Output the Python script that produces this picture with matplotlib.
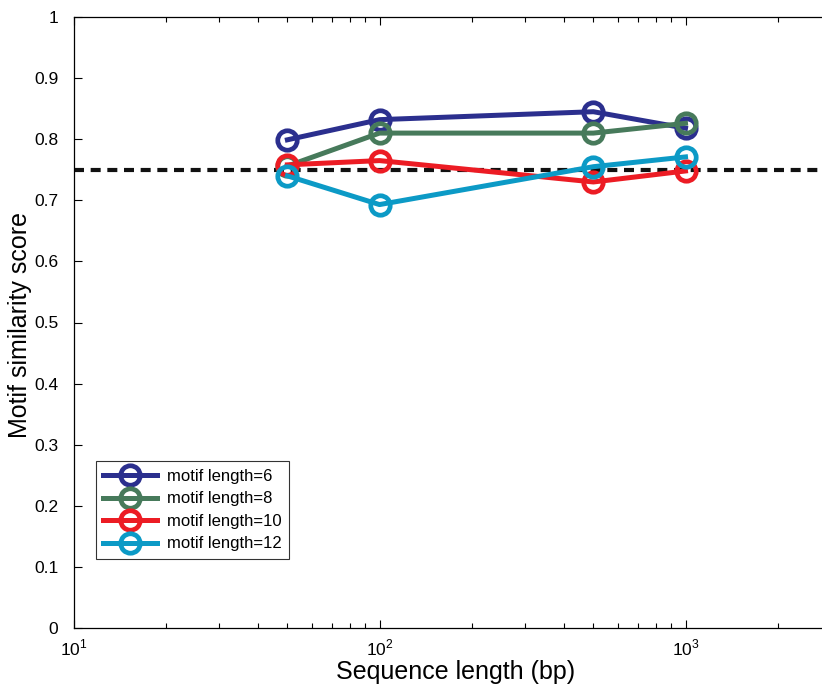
import matplotlib.pyplot as plt
import numpy as np

seq_len = [50, 100, 500, 1000]
score_6 = [0.799, 0.832, 0.845, 0.818]
score_8 = [0.756, 0.810, 0.810, 0.826]
score_10 = [0.758, 0.765, 0.730, 0.748]
score_12 = [0.740, 0.693, 0.755, 0.771]
labels = ['motif length=6', 'motif length=8', 'motif length=10', 'motif length=12']
threshold = 0.75

colors = ['#2b2f8e', '#477a5b', '#ec1c24', '#0c9ac6']

plt.rcParams['font.family'] = ['Liberation Sans', 'DejaVu Sans']
plt.rcParams['mathtext.fontset'] = 'custom'
plt.rcParams['mathtext.rm'] = 'Liberation Sans'

fig = plt.figure(figsize=(8.22, 6.85), dpi=100)
ax = fig.add_axes([73.5 / 822, 57 / 685, 765 / 822, 611 / 685])

ax.axhline(threshold, color='#111111', linestyle=(0, (2.4, 1.6)), linewidth=3.0, zorder=1)

for ys, c, lab in zip([score_6, score_8, score_10, score_12], colors, labels):
    ax.plot(seq_len, ys, color=c, linewidth=3.6, marker='o', markersize=14,
            markerfacecolor='none', markeredgewidth=3.4, label=lab, zorder=3)

ax.set_xscale('log')
ax.set_xlim(10, 10 ** 3.5)
ax.set_ylim(0, 1)
ax.set_yticks(np.arange(0, 1.01, 0.1))
ax.set_yticklabels(['0', '0.1', '0.2', '0.3', '0.4', '0.5', '0.6', '0.7', '0.8', '0.9', '1'])
ax.set_xticks([10, 100, 1000])
ax.set_xticklabels([r'$10^1$', r'$10^2$', r'$10^3$'])

ax.tick_params(which='both', direction='in', top=True, right=True, labelsize=12.5)
ax.tick_params(which='major', length=6, width=0.8)
ax.tick_params(which='minor', length=3.5, width=0.8)
ax.tick_params(axis='x', pad=7)
ax.tick_params(axis='y', pad=11)
for s in ax.spines.values():
    s.set_linewidth(0.9)

ax.set_xlabel('Sequence length (bp)', fontsize=18, labelpad=1)
ax.set_ylabel('Motif similarity score', fontsize=18)
ax.yaxis.set_label_coords(-42 / 765, 0.5 + (628 - 325 - 305.5) / 611)

leg = ax.legend(loc='lower left', bbox_to_anchor=(0.0294, 0.113), fontsize=12,
                frameon=True, fancybox=False, edgecolor='black', handlelength=3.2,
                borderpad=0.45, labelspacing=0.45, handletextpad=0.6, borderaxespad=0)
leg.get_frame().set_linewidth(0.8)

fig.savefig('out.png', dpi=100)
